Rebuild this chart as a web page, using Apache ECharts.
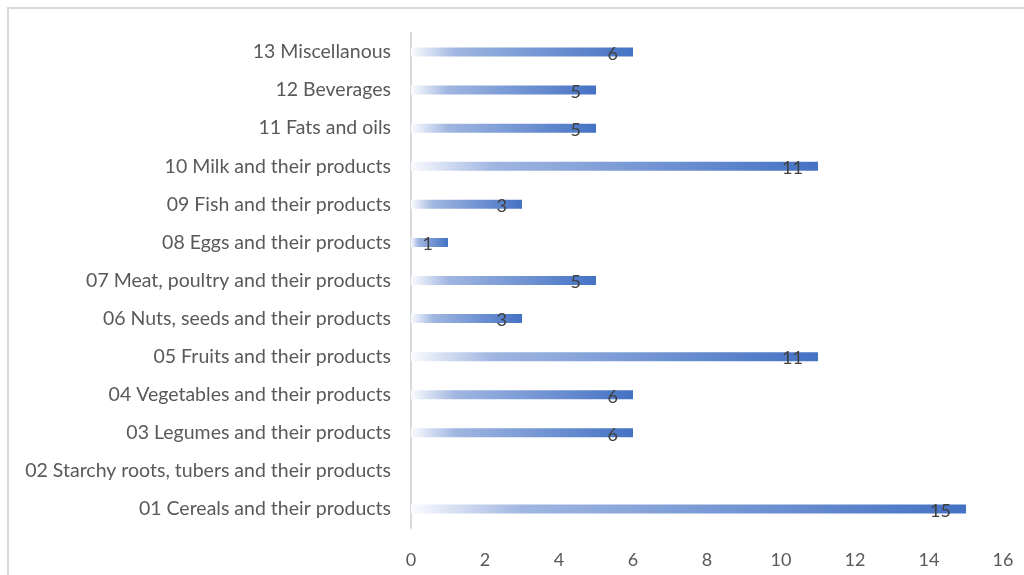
<!DOCTYPE html>
<html>
<head>
<meta charset="utf-8">
<script src="https://cdn.jsdelivr.net/npm/echarts@6/dist/echarts.min.js"></script>
<style>
  html, body { margin: 0; padding: 0; background: #fff; }
  #chart { width: 1024px; height: 575px; }
</style>
</head>
<body>
<div id="chart"></div>
<script>
// categories listed bottom to top
const categories = [
  '01 Cereals and their products',
  '02 Starchy roots, tubers and their products',
  '03 Legumes and their products',
  '04 Vegetables and their products',
  '05 Fruits and their products',
  '06 Nuts, seeds and their products',
  '07 Meat, poultry and their products',
  '08 Eggs and their products',
  '09 Fish and their products',
  '10 Milk and their products',
  '11 Fats and oils',
  '12 Beverages',
  '13 Miscellanous'
];
const counts = [15, 0, 6, 6, 11, 3, 5, 1, 3, 11, 5, 5, 6];
const xTicks = { min: 0, max: 16, interval: 2 };

const font = 'Lato, "Open Sans", sans-serif';

const chart = echarts.init(document.getElementById('chart'));

const option = {
  animation: false,
  backgroundColor: '#fff',
  graphic: [{
    type: 'rect',
    shape: { x: 8, y: 8, width: 1030, height: 600 },
    style: { fill: 'none', stroke: '#D9D9D9', lineWidth: 2 },
    silent: true
  }],
  grid: { left: 411, right: 21, top: 33, bottom: 47 },
  xAxis: {
    type: 'value',
    min: xTicks.min,
    max: xTicks.max,
    interval: xTicks.interval,
    splitLine: { show: false },
    axisLine: { show: false },
    axisTick: { show: false },
    axisLabel: { color: '#595959', fontSize: 18, fontFamily: font, margin: 23 }
  },
  yAxis: {
    type: 'category',
    data: categories,
    axisTick: { show: false },
    axisLine: { show: true, lineStyle: { color: '#D9D9D9', width: 2 } },
    axisLabel: { color: '#595959', fontSize: 19.5, fontFamily: font, margin: 20, padding: [3, 0, 0, 0] }
  },
  series: [{
    type: 'bar',
    data: counts.map(v => v === 0 ? null : v),
    barWidth: 9,
    itemStyle: {
      color: new echarts.graphic.LinearGradient(0, 0, 1, 0, [
        { offset: 0, color: '#FAFBFE' },
        { offset: 0.2, color: '#A0B6E1' },
        { offset: 1, color: '#4472C4' }
      ])
    },
    label: {
      show: true,
      position: 'insideRight',
      distance: 15,
      offset: [0, 2],
      color: '#404040',
      fontSize: 18,
      fontFamily: font
    }
  }]
};

chart.setOption(option);
</script>
</body>
</html>
